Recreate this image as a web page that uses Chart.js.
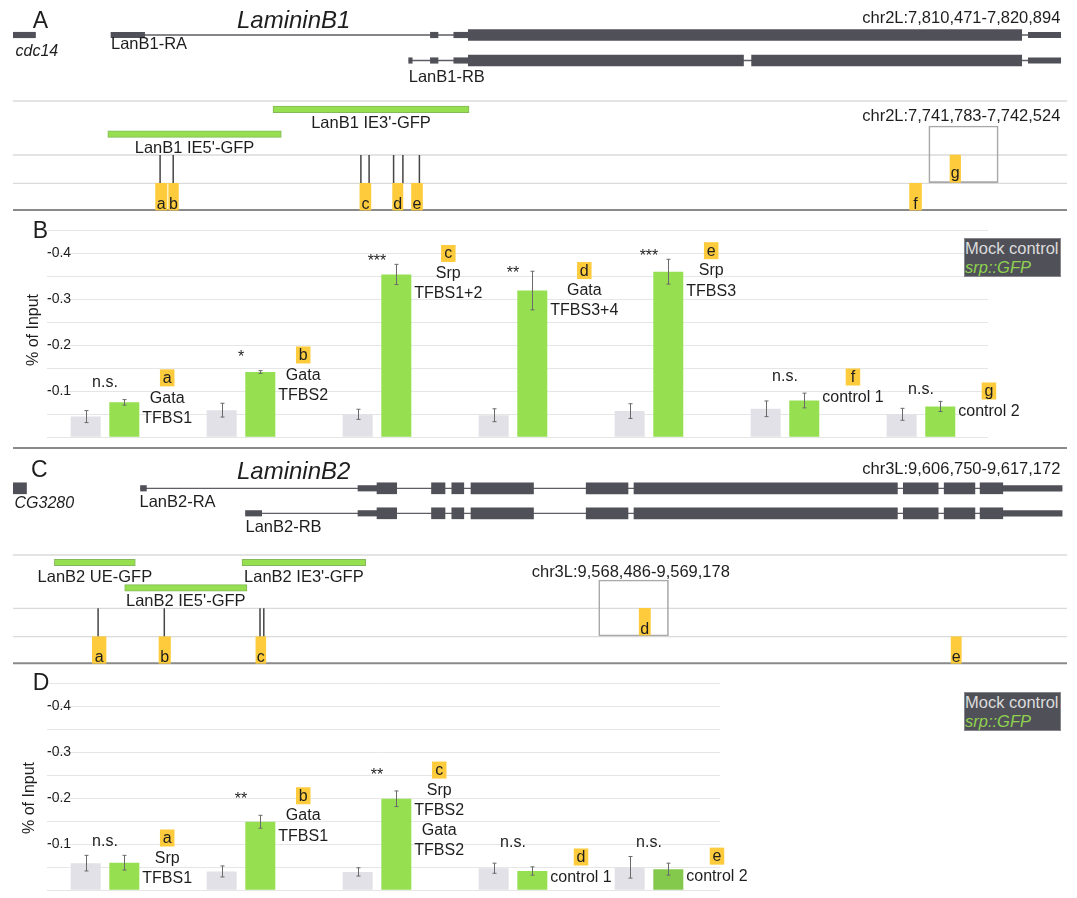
<!DOCTYPE html>
<html>
<head>
<meta charset="utf-8">
<title>LamininB1 / LamininB2 Srp ChIP</title>
<script src="https://cdn.jsdelivr.net/npm/chart.js@4.4.1/dist/chart.umd.min.js"></script>
<style>
  html, body { margin:0; padding:0; background:#fff; }
  body { position:relative; width:1077px; height:898px; overflow:hidden; font-family:"Liberation Sans", Arial, Helvetica, sans-serif; }
  canvas { position:absolute; left:0; }
  .legend { position:absolute; left:964px; width:97px; height:39px; box-sizing:border-box; background:#505058; border:1px solid #85858a; font-size:16.5px; line-height:18.5px; white-space:nowrap; overflow:hidden; }
  .legend .mock { color:#dcdcdc; display:block; }
  .legend .gfp { color:#8fd24f; font-style:italic; display:block; }
</style>
</head>
<body>
<canvas id="cA" width="1077" height="215" style="top:0px"></canvas>
<canvas id="cB" width="1077" height="233" style="top:215px"></canvas>
<canvas id="cC" width="1077" height="225" style="top:440px"></canvas>
<canvas id="cD" width="1077" height="235" style="top:663px"></canvas>
<div class="legend" style="top:238px"><span class="mock">Mock control</span><span class="gfp">srp::GFP</span></div>
<div class="legend" style="top:692px"><span class="mock">Mock control</span><span class="gfp">srp::GFP</span></div>
<script>
// ================= DATA =================
// --- Panel A: LamininB1 locus, positions in kb from the left edge of the shown locus
const lanB1Locus = 'chr2L:7,810,471-7,820,894';
const lanB1ZoomLocus = 'chr2L:7,741,783-7,742,524';
const lanB1TranscriptNames = ['cdc14', 'LanB1-RA', 'LanB1-RB'];
const lanB1TranscriptUTR = [
  [[0, 0.225]],
  [[0.98, 1.316], [4.174, 4.25], [4.408, 4.553], [10.153, 10.477]],
  [[3.957, 3.992], [4.174, 4.25], [4.408, 4.553], [10.153, 10.477]]
];
const lanB1TranscriptCDS = [
  [],
  [[4.553, 10.087]],
  [[4.553, 7.305], [7.386, 10.087]]
];
const lanB1Constructs = ["LanB1 IE3'-GFP", "LanB1 IE5'-GFP"];
const lanB1ConstructSpans = [[2.6, 4.56], [0.948, 2.683]];
const lanB1Sites = [1.471, 1.602, 3.479, 3.561, 3.806, 3.899, 4.064];
const lanB1Regions = ['a', 'b', 'c', 'd', 'e', 'f', 'g'];
const lanB1RegionSpans = [[1.426, 1.54], [1.557, 1.654], [3.469, 3.579], [3.796, 3.899], [3.985, 4.095], [8.966, 9.085], [9.37, 9.476]];
const lanB1RegionInZoom = [false, false, false, false, false, false, true];
const lanB1ZoomSpan = [9.158, 9.852];

// --- Panel B: ChIP, LamininB1 regions (% of input, shown as negative labels)
const catsB = ['a', 'b', 'c', 'd', 'e', 'f', 'g'];
const factorsB = [['Gata', 'TFBS1'], ['Gata', 'TFBS2'], ['Srp', 'TFBS1+2'], ['Gata', 'TFBS3+4'], ['Srp', 'TFBS3'], ['control 1'], ['control 2']];
const signifB = ['n.s.', '*', '***', '**', '***', 'n.s.', 'n.s.'];
const mockB = [0.045, 0.059, 0.050, 0.048, 0.057, 0.062, 0.050];
const mockErrB = [0.013, 0.015, 0.011, 0.014, 0.016, 0.017, 0.013];
const gfpB = [0.076, 0.142, 0.354, 0.319, 0.360, 0.080, 0.067];
const gfpErrB = [0.006, 0.003, 0.022, 0.042, 0.027, 0.016, 0.011];

// --- Panel C: LamininB2 locus
const lanB2Locus = 'chr3L:9,606,750-9,617,172';
const lanB2ZoomLocus = 'chr3L:9,568,486-9,569,178';
const lanB2TranscriptNames = ['CG3280', 'LanB2-RA', 'LanB2-RB'];
const lanB2CDSCommon = [[3.64, 3.837], [4.185, 4.32], [4.388, 4.508], [4.58, 5.205], [5.732, 6.15], [6.21, 8.844], [8.903, 9.252], [9.312, 9.619], [9.671, 9.898]];
const lanB2TranscriptUTR = [
  [],
  [[1.275, 1.334], [3.45, 3.64], [9.898, 10.491]],
  [[2.325, 2.487], [3.45, 3.64], [9.898, 10.491]]
];
const lanB2TranscriptCDS = [[[0, 0.135]], lanB2CDSCommon, lanB2CDSCommon];
const lanB2Constructs = ['LanB2 UE-GFP', "LanB2 IE3'-GFP", "LanB2 IE5'-GFP"];
const lanB2ConstructSpans = [[0.414, 1.223], [2.29, 3.527], [1.117, 2.339]];
const lanB2Sites = [0.851, 1.513, 2.47, 2.508];
const lanB2Regions = ['a', 'b', 'c', 'd', 'e'];
const lanB2RegionSpans = [[0.793, 0.93], [1.46, 1.575], [2.429, 2.528], [6.262, 6.374], [9.381, 9.483]];
const lanB2RegionInZoom = [false, false, false, true, false];
const lanB2ZoomSpan = [5.857, 6.555];

// --- Panel D: ChIP, LamininB2 regions
const catsD = ['a', 'b', 'c', 'd', 'e'];
const factorsD = [['Srp', 'TFBS1'], ['Gata', 'TFBS1'], ['Srp', 'TFBS2', 'Gata', 'TFBS2'], ['control 1'], ['control 2']];
const signifD = ['n.s.', '**', '**', 'n.s.', 'n.s.'];
const mockD = [0.059, 0.041, 0.040, 0.048, 0.050];
const mockErrD = [0.017, 0.012, 0.009, 0.011, 0.0235];
const gfpD = [0.060, 0.149, 0.199, 0.042, 0.046];
const gfpErrD = [0.016, 0.014, 0.017, 0.009, 0.013];

// y-axis tick labels of the ChIP charts
const yTickValues = [0.1, 0.2, 0.3, 0.4];
const yTickLabels = ['-0.1', '-0.2', '-0.3', '-0.4'];
const yAxisTitle = '% of Input';
const seriesNames = ['Mock control', 'srp::GFP'];

// ================= STYLE / LAYOUT =================
const FONT = '"Liberation Sans", Arial, Helvetica, sans-serif';
const INK = '#1e1e1e';
const GENE_COLOR = '#505058';
const GREEN = '#95df50';
const GREEN_DARK = '#84c84c';
const MOCK = '#e2e1e7';
const YELLOW = '#fdcb3b';
Chart.defaults.font.family = FONT;
Chart.defaults.color = INK;

const LAYOUT_A = {
  height: 215, xMax: 10.54, padLeft: 13, padRight: 10,
  txLane: [35, 35, 60.5], txLabelDy: [15, 8.5, 15.5], txLabelDx: [2.5, 0, 0], txItalic: [true, false, false],
  conLane: [109.4, 134.2], conLabelDy: [12.5, 12.5],
  rowMain: { c: 196.7, h: 26.7 }, rowZoom: { c: 168.7, h: 27.3 },
  siteY: [155, 183.3], zoomY: [126, 182.7],
  lightLines: [101, 155, 183.3], darkLines: [210],
  panel: { t: 'A', x: 32.7, y: 28.3 }, title: { t: 'LamininB1', x: 237, y: 28.3 },
  locus: { x: 1060.4, y: 16.7, align: 'right' }, zoomLocus: { x: 1060.4, y: 115, align: 'right' }
};
const LAYOUT_C = {
  height: 225, xMax: 10.54, padLeft: 13, padRight: 10,
  txLane: [48.3, 48.3, 73.3], txLabelDy: [14, 12.4, 12.4], txLabelDx: [1.5, -1, 0], txItalic: [true, false, false],
  conLane: [122.5, 122.5, 147.8], conLabelDy: [13.5, 13.5, 12.2],
  rowMain: { c: 210, h: 26.6 }, rowZoom: { c: 181.7, h: 26.7 },
  siteY: [168.3, 196.7], zoomY: [140, 196],
  lightLines: [115, 168.3, 196.7], darkLines: [8, 223.3],
  panel: { t: 'C', x: 31, y: 36.5 }, title: { t: 'LamininB2', x: 237, y: 38.5 },
  locus: { x: 1060.4, y: 28.3, align: 'right' }, zoomLocus: { x: 531.7, y: 130.7, align: 'left' }
};
const LAYOUT_B = {
  padTop: 15.3, padBottom: 10.7, padRight: 89, xMin: 0.5735, xMax: 7.493, axisWidth: 47,
  titleX: 33.5, titleY: 115,
  sigLift: [20, 19, 17, 22, 20, 24, 17], letterLift: [24.5, 17, 21, 20, 21, 23.5, 15.5],
  panel: { t: 'B', x: 32.7, y: 23 }
};
const LAYOUT_D = {
  padTop: 20.3, padBottom: 7.7, padRight: 357, xMin: 0.5735, xMax: 5.522, axisWidth: 47,
  titleX: 30, titleY: 135,
  sigLift: [21, 27, 28, 26, 25], letterLift: [24.7, 26, 28.7, 14, 13],
  panel: { t: 'D', x: 32.7, y: 27 }
};

// ================= HELPERS =================
function setFont(ctx, size, italic) { ctx.font = (italic ? 'italic ' : '') + size + 'px ' + FONT; }
function capText(ctx, s, x, y, size, align, italic, color) {
  setFont(ctx, size, italic);
  ctx.fillStyle = color || INK; ctx.textAlign = align || 'left'; ctx.textBaseline = 'alphabetic';
  ctx.fillText(s, x, y + size * 0.716 / 2);
}
function baseText(ctx, s, x, y, size, align, italic, color) {
  setFont(ctx, size, italic);
  ctx.fillStyle = color || INK; ctx.textAlign = align || 'left'; ctx.textBaseline = 'alphabetic';
  ctx.fillText(s, x, y);
}
function inkText(ctx, s, x, y, size) {
  setFont(ctx, size, false);
  const m = ctx.measureText(s);
  ctx.fillStyle = INK; ctx.textAlign = 'center'; ctx.textBaseline = 'alphabetic';
  ctx.fillText(s, x, y + (m.actualBoundingBoxAscent - m.actualBoundingBoxDescent) / 2);
}
const singleTick = s => { s.ticks = [{ value: s.min }]; };

// ================= GENE MODEL CHARTS =================
function buildGeneChart(canvasId, G, L) {
  const utr = [], cds = [], introns = [];
  G.names.forEach((name, i) => {
    const y = L.txLane[i];
    G.utr[i].forEach(s => utr.push({ x: s, y }));
    G.cds[i].forEach(s => cds.push({ x: s, y }));
    const all = G.utr[i].concat(G.cds[i]);
    if (all.length > 1) {
      const lo = Math.min(...all.map(s => s[0])), hi = Math.max(...all.map(s => s[1]));
      introns.push({ x: lo, y }, { x: hi, y }, { x: hi, y: null });
    }
  });
  const sites = [];
  G.sites.forEach(x => sites.push({ x, y: L.siteY[0] }, { x, y: L.siteY[1] }, { x, y: null }));
  const cons = G.conSpans.map((s, i) => ({ x: s, y: L.conLane[i] }));
  const mainBoxes = [], zoomBoxes = [];
  G.regions.forEach((r, i) => {
    if (G.inZoom[i]) zoomBoxes.push({ x: G.regionSpans[i], y: L.rowZoom.c, label: r });
    else mainBoxes.push({ x: G.regionSpans[i], y: L.rowMain.c, label: r });
  });
  const zoomRect = [{ x: G.zoomSpan, y: (L.zoomY[0] + L.zoomY[1]) / 2 }];
  const H = L.height;
  const yAxis = () => ({ type: 'linear', axis: 'y', display: false, min: 0, max: H, reverse: true, offset: false, afterBuildTicks: singleTick });
  const bar = (data, axis, thick, extra) => Object.assign({
    type: 'bar', indexAxis: 'y', xAxisID: 'x', yAxisID: axis, data, grouped: false,
    barThickness: thick, maxBarThickness: thick, borderWidth: 0, order: 1
  }, extra || {});

  const genePlugin = {
    id: 'geneDecor',
    beforeDatasetsDraw(chart) {
      const ctx = chart.ctx, ys = chart.scales.yLine, ca = chart.chartArea;
      ctx.save();
      L.lightLines.forEach(v => {
        const y = ys.getPixelForValue(v);
        ctx.strokeStyle = '#dadada'; ctx.lineWidth = 1.3;
        ctx.beginPath(); ctx.moveTo(ca.left, y); ctx.lineTo(ca.right, y); ctx.stroke();
      });
      L.darkLines.forEach(v => {
        const y = ys.getPixelForValue(v);
        ctx.strokeStyle = '#8a8a8a'; ctx.lineWidth = 2;
        ctx.beginPath(); ctx.moveTo(ca.left, y); ctx.lineTo(ca.right, y); ctx.stroke();
      });
      ctx.restore();
    },
    afterDatasetsDraw(chart) {
      const ctx = chart.ctx, xs = chart.scales.x, ys = chart.scales.yLine;
      ctx.save();
      baseText(ctx, L.panel.t, L.panel.x, L.panel.y, 23);
      baseText(ctx, L.title.t, L.title.x, L.title.y, 24, 'left', true);
      capText(ctx, G.locus, L.locus.x, ys.getPixelForValue(L.locus.y), 16.5, L.locus.align);
      capText(ctx, G.zoomLocus, L.zoomLocus.x, ys.getPixelForValue(L.zoomLocus.y), 16.5, L.zoomLocus.align);
      // transcript names
      G.names.forEach((name, i) => {
        const all = G.utr[i].concat(G.cds[i]);
        const lo = Math.min(...all.map(s => s[0]));
        const x = xs.getPixelForValue(lo) + L.txLabelDx[i];
        const y = ys.getPixelForValue(L.txLane[i] + L.txLabelDy[i]);
        capText(ctx, name, x, y, L.txItalic[i] ? 16 : 16.5, 'left', L.txItalic[i]);
      });
      // construct names
      G.constructs.forEach((name, i) => {
        const cx = (xs.getPixelForValue(G.conSpans[i][0]) + xs.getPixelForValue(G.conSpans[i][1])) / 2;
        capText(ctx, name, cx, ys.getPixelForValue(L.conLane[i] + L.conLabelDy[i]), 16.5, 'center');
      });
      // region letters in the yellow boxes
      [3, 4].forEach(di => {
        const meta = chart.getDatasetMeta(di);
        const ds = chart.data.datasets[di];
        meta.data.forEach((el, j) => {
          const cx = (el.x + el.base) / 2;
          const bottom = el.y + el.height / 2;
          setFont(ctx, 16, false);
          const m = ctx.measureText(ds.data[j].label);
          baseText(ctx, ds.data[j].label, cx, bottom - 1 - Math.max(0, m.actualBoundingBoxDescent), 16, 'center');
        });
      });
      ctx.restore();
    }
  };

  return new Chart(document.getElementById(canvasId), {
    type: 'bar',
    data: {
      datasets: [
        { type: 'line', data: introns, xAxisID: 'x', yAxisID: 'yLine', borderColor: '#5e5e64', borderWidth: 1.3, pointRadius: 0, tension: 0, spanGaps: false, fill: false, order: 10 },
        { type: 'line', data: sites, xAxisID: 'x', yAxisID: 'yLine', borderColor: '#464646', borderWidth: 1.5, pointRadius: 0, tension: 0, spanGaps: false, fill: false, order: 9 },
        bar(cons, 'yCon', 6.5, { backgroundColor: GREEN, borderColor: '#84b85a', borderWidth: 1, borderSkipped: false }),
        bar(mainBoxes, 'yBox', L.rowMain.h, { backgroundColor: YELLOW }),
        bar(zoomBoxes, 'yBox', L.rowZoom.h, { backgroundColor: YELLOW }),
        bar(zoomRect, 'yRect', L.zoomY[1] - L.zoomY[0], { backgroundColor: 'rgba(255,255,255,0)', borderColor: '#a9a9a9', borderWidth: 1, borderSkipped: false, order: 2 }),
        bar(utr, 'yGene', 5.5, { backgroundColor: GENE_COLOR }),
        bar(cds, 'yGene', 11, { backgroundColor: GENE_COLOR })
      ]
    },
    options: {
      responsive: false, animation: false, devicePixelRatio: 1, events: [],
      layout: { padding: { left: L.padLeft, right: L.padRight, top: 0, bottom: 0 } },
      plugins: { legend: { display: false }, tooltip: { enabled: false } },
      scales: {
        x: { type: 'linear', axis: 'x', display: false, min: 0, max: L.xMax, offset: false },
        yLine: yAxis(), yCon: yAxis(), yBox: yAxis(), yRect: yAxis(), yGene: yAxis()
      }
    },
    plugins: [genePlugin]
  });
}

// ================= ChIP BAR CHARTS =================
function buildBarChart(canvasId, D, L) {
  const mockData = D.mock.map((v, i) => ({ x: i + 1, y: v }));
  const gfpData = D.gfp.map((v, i) => ({ x: i + 1, y: v }));
  const annot = {
    id: 'chipAnnot',
    afterDatasetsDraw(chart) {
      const ctx = chart.ctx, xs = chart.scales.x, ys = chart.scales.y;
      const metas = [chart.getDatasetMeta(0), chart.getDatasetMeta(1)];
      const vals = [D.mock, D.gfp], errs = [D.mockErr, D.gfpErr];
      ctx.save();
      baseText(ctx, L.panel.t, L.panel.x, L.panel.y, 23);
      // y-axis title
      ctx.save();
      ctx.translate(L.titleX, L.titleY);
      ctx.rotate(-Math.PI / 2);
      setFont(ctx, 16, false);
      ctx.fillStyle = INK; ctx.textAlign = 'center'; ctx.textBaseline = 'middle';
      ctx.fillText(yAxisTitle, 0, 0);
      ctx.restore();
      // error bars
      ctx.strokeStyle = '#6a6a6a'; ctx.lineWidth = 1;
      metas.forEach((meta, s) => {
        meta.data.forEach((el, i) => {
          const x = Math.round(el.x) + 0.5;
          const y1 = ys.getPixelForValue(vals[s][i] + errs[s][i]);
          const y2 = ys.getPixelForValue(vals[s][i] - errs[s][i]);
          ctx.beginPath();
          ctx.moveTo(x, y1); ctx.lineTo(x, y2);
          ctx.moveTo(x - 2, y1); ctx.lineTo(x + 2, y1);
          ctx.moveTo(x - 2, y2); ctx.lineTo(x + 2, y2);
          ctx.stroke();
        });
      });
      // significance + region labels
      D.cats.forEach((c, i) => {
        const cx = xs.getPixelForValue(i + 1);
        const topPx = Math.min(ys.getPixelForValue(D.mock[i]), ys.getPixelForValue(D.gfp[i]));
        inkText(ctx, D.sig[i], cx, topPx - L.sigLift[i], 16);
        const gEl = metas[1].data[i];
        const right = gEl.x + gEl.width / 2;
        setFont(ctx, 16, false);
        const w = Math.max(...D.factors[i].map(s => ctx.measureText(s).width));
        const bx = right + 3 + w / 2;
        const ly = ys.getPixelForValue(D.gfp[i]) - L.letterLift[i];
        ctx.fillStyle = YELLOW;
        ctx.fillRect(bx - 7.25, ly - 8.5, 14.5, 17);
        baseText(ctx, c, bx, ly + 5, 16, 'center');
        D.factors[i].forEach((s, k) => capText(ctx, s, bx, ly + 19 + 20.2 * k, 16, 'center'));
      });
      ctx.restore();
    }
  };
  return new Chart(document.getElementById(canvasId), {
    type: 'bar',
    data: {
      datasets: [
        { label: seriesNames[0], data: mockData, backgroundColor: MOCK, borderWidth: 0, categoryPercentage: 0.568, barPercentage: 0.777 },
        { label: seriesNames[1], data: gfpData, backgroundColor: D.gfpColors, borderWidth: 0, categoryPercentage: 0.568, barPercentage: 0.777 }
      ]
    },
    options: {
      responsive: false, animation: false, devicePixelRatio: 1, events: [],
      layout: { padding: { left: 0, right: L.padRight, top: L.padTop, bottom: L.padBottom } },
      plugins: { legend: { display: false }, tooltip: { enabled: false } },
      scales: {
        x: { type: 'linear', display: false, min: L.xMin, max: L.xMax, offset: false, grid: { offset: false }, afterBuildTicks: singleTick },
        y: {
          type: 'linear', position: 'left', min: 0, max: 0.45,
          border: { display: false },
          grid: { color: '#e6e6e6', lineWidth: 1, drawTicks: false, tickLength: 0 },
          ticks: {
            stepSize: 0.05, mirror: true, padding: 0, color: INK, font: { size: 14, lineHeight: 1 },
            callback: v => { const k = yTickValues.findIndex(t => Math.abs(t - v) < 1e-9); return k < 0 ? '' : yTickLabels[k]; }
          },
          title: { display: false },
          afterFit: s => { s.width = L.axisWidth; }
        }
      }
    },
    plugins: [annot]
  });
}

// ================= BUILD =================
buildGeneChart('cA', {
  names: lanB1TranscriptNames, utr: lanB1TranscriptUTR, cds: lanB1TranscriptCDS,
  constructs: lanB1Constructs, conSpans: lanB1ConstructSpans, sites: lanB1Sites,
  regions: lanB1Regions, regionSpans: lanB1RegionSpans, inZoom: lanB1RegionInZoom,
  zoomSpan: lanB1ZoomSpan, locus: lanB1Locus, zoomLocus: lanB1ZoomLocus
}, LAYOUT_A);

buildBarChart('cB', {
  cats: catsB, factors: factorsB, sig: signifB,
  mock: mockB, mockErr: mockErrB, gfp: gfpB, gfpErr: gfpErrB,
  gfpColors: gfpB.map(() => GREEN)
}, LAYOUT_B);

buildGeneChart('cC', {
  names: lanB2TranscriptNames, utr: lanB2TranscriptUTR, cds: lanB2TranscriptCDS,
  constructs: lanB2Constructs, conSpans: lanB2ConstructSpans, sites: lanB2Sites,
  regions: lanB2Regions, regionSpans: lanB2RegionSpans, inZoom: lanB2RegionInZoom,
  zoomSpan: lanB2ZoomSpan, locus: lanB2Locus, zoomLocus: lanB2ZoomLocus
}, LAYOUT_C);

buildBarChart('cD', {
  cats: catsD, factors: factorsD, sig: signifD,
  mock: mockD, mockErr: mockErrD, gfp: gfpD, gfpErr: gfpErrD,
  gfpColors: gfpD.map((v, i) => i === gfpD.length - 1 ? GREEN_DARK : GREEN)
}, LAYOUT_D);
</script>
</body>
</html>
